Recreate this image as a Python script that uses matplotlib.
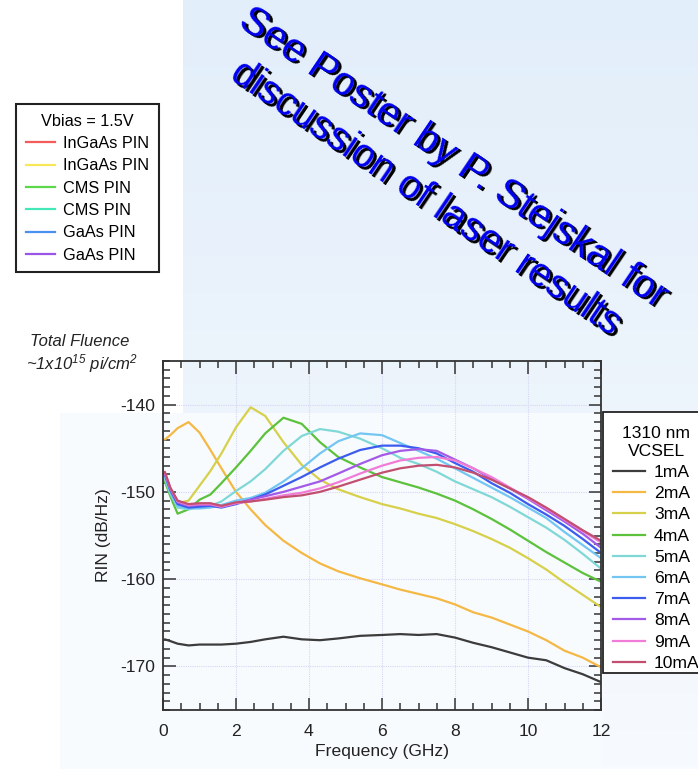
import numpy as np
import matplotlib
matplotlib.use("Agg")
import matplotlib.pyplot as plt
import matplotlib.transforms as mtransforms
from matplotlib.colors import LinearSegmentedColormap
from matplotlib.lines import Line2D
from matplotlib.patches import Rectangle
from matplotlib.ticker import MultipleLocator

plt.rcParams['font.family'] = ['Liberation Sans', 'DejaVu Sans']
plt.rcParams['mathtext.default'] = 'regular'
plt.rcParams['axes.unicode_minus'] = False

# ---------------- DATA ----------------
freq_ghz = [0.05, 0.2, 0.4, 0.7, 1.0, 1.3, 1.6, 2.0, 2.4, 2.8, 3.3, 3.8, 4.3, 4.8,
            5.4, 6.0, 6.5, 7.0, 7.5, 8.0, 8.5, 9.0, 9.5, 10.0, 10.5, 11.0, 11.5, 12.0]

rin_1ma = [-166.9, -167.1, -167.4, -167.6, -167.5, -167.5, -167.5, -167.4, -167.2, -166.9,
           -166.6, -166.9, -167.0, -166.8, -166.5, -166.4, -166.3, -166.4, -166.3, -166.7,
           -167.3, -167.8, -168.4, -169.0, -169.3, -170.2, -170.9, -171.8]
rin_2ma = [-144.0, -143.5, -142.7, -142.0, -143.2, -145.2, -147.3, -150.0, -152.0, -153.8,
           -155.6, -157.0, -158.2, -159.1, -159.9, -160.6, -161.2, -161.7, -162.2, -162.9,
           -163.8, -164.4, -165.2, -166.0, -167.0, -168.2, -169.0, -170.1]
rin_3ma = [-148.6, -149.8, -151.3, -151.0, -149.3, -147.6, -145.6, -142.6, -140.3, -141.3,
           -144.3, -146.9, -148.6, -149.7, -150.6, -151.4, -151.9, -152.5, -153.0, -153.7,
           -154.5, -155.4, -156.4, -157.6, -158.9, -160.4, -161.8, -163.2]
rin_4ma = [-148.8, -150.5, -152.5, -152.0, -150.9, -150.3, -149.0, -147.2, -145.3, -143.3,
           -141.5, -142.2, -144.3, -146.0, -147.2, -148.3, -148.9, -149.5, -150.2, -151.0,
           -152.0, -153.1, -154.3, -155.6, -156.9, -158.1, -159.3, -160.3]
rin_5ma = [-148.5, -150.2, -151.8, -152.0, -151.7, -151.6, -151.1, -149.9, -148.8, -147.4,
           -145.3, -143.6, -142.8, -143.1, -143.9, -145.0, -146.1, -146.8, -147.7, -148.8,
           -149.7, -150.6, -151.7, -152.9, -154.1, -155.5, -157.1, -158.8]
rin_6ma = [-148.3, -150.0, -151.6, -151.9, -151.9, -151.8, -151.5, -151.0, -150.7, -150.1,
           -148.8, -147.3, -145.6, -144.2, -143.3, -143.5, -144.4, -145.3, -146.2, -147.3,
           -148.4, -149.5, -150.6, -151.8, -153.0, -154.6, -156.1, -157.6]
rin_7ma = [-148.0, -149.8, -151.4, -151.8, -151.7, -151.6, -151.8, -151.4, -150.9, -150.3,
           -149.3, -148.3, -147.2, -146.2, -145.2, -144.7, -144.7, -145.0, -145.6, -146.7,
           -147.7, -149.0, -150.1, -151.4, -152.6, -153.9, -155.4, -157.0]
rin_8ma = [-147.9, -149.6, -151.2, -151.6, -151.5, -151.5, -151.7, -151.3, -150.9, -150.5,
           -150.0, -149.4, -148.8, -147.9, -146.8, -145.8, -145.3, -145.1, -145.3, -146.3,
           -147.3, -148.5, -149.6, -150.8, -152.1, -153.4, -154.8, -156.4]
rin_9ma = [-147.8, -149.6, -151.1, -151.5, -151.4, -151.4, -151.7, -151.3, -151.1, -150.8,
           -150.4, -150.1, -149.6, -148.9, -147.9, -147.0, -146.4, -146.1, -146.0, -146.4,
           -147.3, -148.3, -149.5, -150.7, -151.9, -153.2, -154.5, -155.8]
rin_10ma = [-147.7, -149.5, -151.0, -151.4, -151.3, -151.3, -151.6, -151.2, -151.1, -150.9,
            -150.6, -150.4, -150.0, -149.4, -148.6, -147.8, -147.3, -147.0, -146.9, -147.2,
            -147.8, -148.6, -149.6, -150.6, -151.8, -153.1, -154.4, -155.6]

vcsel_labels = ['1mA', '2mA', '3mA', '4mA', '5mA', '6mA', '7mA', '8mA', '9mA', '10mA']
vcsel_colors = ['#3c3c3c', '#f5b844', '#d6d04a', '#5cc23c', '#80d8d6',
                '#74c6f2', '#3c5cee', '#a35ae6', '#f07cd8', '#c24f70']

pin_labels = ['InGaAs PIN', 'InGaAs PIN', 'CMS PIN', 'CMS PIN', 'GaAs PIN', 'GaAs PIN']
pin_colors = ['#f45b5b', '#f8e858', '#5cd84a', '#44e8b8', '#4a90ee', '#9a55e6']

W, H = 698, 769

fig = plt.figure(figsize=(W / 100, H / 100), dpi=100)

# slide background: light blue gradient with pasted white / pale areas
bg = fig.add_axes([0, 0, 1, 1], zorder=-10)
bg.set_xlim(0, W)
bg.set_ylim(H, 0)
bg.axis('off')
cmap = LinearSegmentedColormap.from_list('slide', ['#e2eefa', '#f7fafe'])
bg.imshow(np.linspace(0, 1, 256).reshape(-1, 1), cmap=cmap, aspect='auto',
          extent=[0, W, H, 0])
bg.add_patch(Rectangle((60, 413), 543, H - 413, color='#f8fbfe', lw=0))
bg.add_patch(Rectangle((0, 0), 183, 413, color='white', lw=0))
bg.add_patch(Rectangle((0, 413), 60, H - 413, color='white', lw=0))
# frame of the VCSEL legend, which runs past the right edge
bg.add_patch(Rectangle((603, 412), 140, 261, facecolor='white',
                       edgecolor='#222222', lw=1.3))

# rotated note with drop shadow
note = 'See Poster by P. Stejskal for\ndiscussion of laser results'
shadow = mtransforms.offset_copy(fig.transFigure, fig=fig, x=2.2, y=-1.8, units='points')
for tr, col in [(shadow, 'black'), (fig.transFigure, '#0000ee')]:
    fig.text(439 / W, 1 - 178 / H, note, transform=tr, color=col, fontsize=29,
             rotation=-34, rotation_mode='anchor', ha='center', va='center',
             multialignment='center', linespacing=1.35)

# fluence note
fig.text(80 / W, 1 - 342 / H, 'Total Fluence', fontsize=12, style='italic',
         color='#222222', ha='center', va='center')
fig.text(82 / W, 1 - 364 / H, r'~1x10$^{15}$ pi/cm$^{2}$', fontsize=12, style='italic',
         color='#222222', ha='center', va='center')

# main chart
ax = fig.add_axes([163 / W, 1 - 710 / H, 438 / W, 349 / H])
ax.set_facecolor('none')
series = [rin_1ma, rin_2ma, rin_3ma, rin_4ma, rin_5ma,
          rin_6ma, rin_7ma, rin_8ma, rin_9ma, rin_10ma]
for vals, col in zip(series, vcsel_colors):
    ax.plot(freq_ghz, vals, color=col, lw=1.6, solid_capstyle='round')

ax.set_xlim(0, 12)
ax.set_ylim(-175, -135)
ax.xaxis.set_major_locator(MultipleLocator(2))
ax.xaxis.set_minor_locator(MultipleLocator(0.5))
ax.yaxis.set_major_locator(MultipleLocator(10))
ax.yaxis.set_minor_locator(MultipleLocator(1))
ax.grid(True, which='major', color='#d6d6f4', linestyle=(0, (1, 1)), lw=0.8)
ax.set_axisbelow(True)
ax.tick_params(which='both', direction='in', top=True, right=True,
               width=1.1, color='#333333', labelsize=12.6, labelcolor='#222222')
ax.tick_params(which='major', length=9)
ax.tick_params(which='minor', length=5)
ax.tick_params(axis='x', pad=10)
ax.tick_params(axis='y', pad=5.5)
for sp in ax.spines.values():
    sp.set_linewidth(1.3)
    sp.set_color('#333333')
ax.set_xlabel('Frequency (GHz)', fontsize=12.6, color='#222222', labelpad=4)
ax.set_ylabel('RIN (dB/Hz)', fontsize=12.6, color='#222222', labelpad=7)

# VCSEL legend (frame drawn above, so the legend itself has none)
vh = [Line2D([], [], color=c, lw=1.6) for c in vcsel_colors]
leg1 = fig.legend(vh, vcsel_labels, title='1310 nm\nVCSEL', loc='upper left',
                  bbox_to_anchor=(605 / W, 1 - 418 / H), fontsize=12.6,
                  title_fontsize=12.6, frameon=False,
                  borderpad=0.45, labelspacing=0.34, handlelength=1.85,
                  handletextpad=0.5, borderaxespad=0)
leg1.get_title().set_multialignment('center')
leg1.get_title().set_linespacing(1.25)

# photodiode legend
ph = [Line2D([], [], color=c, lw=1.6) for c in pin_colors]
leg2 = fig.legend(ph, pin_labels, title='Vbias = 1.5V', loc='upper left',
                  bbox_to_anchor=(16 / W, 1 - 104 / H), fontsize=11.7,
                  title_fontsize=11.7, frameon=True, fancybox=False,
                  edgecolor='#222222', facecolor='white', framealpha=1,
                  borderpad=0.6, labelspacing=0.45, handlelength=1.8,
                  handletextpad=0.5, borderaxespad=0)
leg2.get_frame().set_linewidth(1.5)

fig.savefig('out.png', dpi=100)
